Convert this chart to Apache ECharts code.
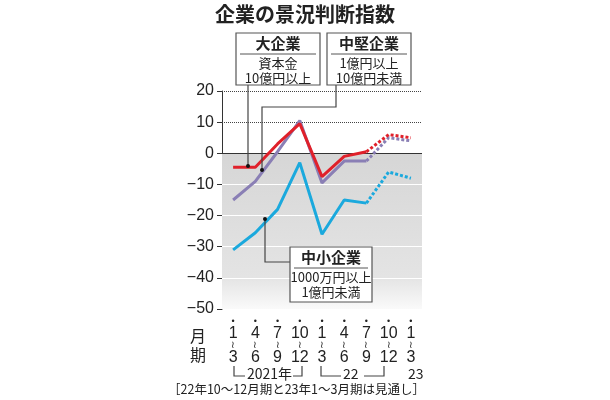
<!DOCTYPE html><html><head><meta charset="utf-8"><script src="https://cdn.jsdelivr.net/npm/echarts@6/dist/echarts.min.js"></script>
<style>body{margin:0;background:#fff}#c{width:610px;height:400px}</style></head><body><div id="c"></div><script>
const cats=['1~3','4~6','7~9','10~12','1~3','4~6','7~9','10~12','1~3'];
const large=[-4.5,-4.5,3,9.5,-7.5,-1,0.5,6,5];
const mid=[-15,-9,0.5,10.5,-9.5,-2.5,-2.5,5,4];
const small=[-31,-25.5,-18,-3,-26,-15,-16,-6,-8];
const yTicks=[20,10,0,-10,-20,-30,-40,-50];
const F='"Noto Sans CJK JP"';
function split(arr){const solid=arr.map((v,i)=>i<=6?v:null);const dash=arr.map((v,i)=>i>=6?v:null);return [solid,dash];}
function mk(name,arr,color){const [s,d]=split(arr);return [
{type:'line',data:s,symbol:'none',lineStyle:{color,width:3},z:5},
{type:'line',data:d,symbol:'none',lineStyle:{color,width:3,type:[3,2]},z:5}];}
const series=[...mk('small',small,'#1ba9dd'),...mk('mid',mid,'#8a7fb5'),...mk('large',large,'#e0202a')];
series.push({type:'line',data:[],markArea:{silent:true,itemStyle:{color:{type:'linear',x:0,y:0,x2:0,y2:1,colorStops:[{offset:0,color:'#d6d6d6'},{offset:0.8,color:'#e4e4e4'},{offset:1,color:'#fafafa'}]}},data:[[{yAxis:0,x:222},{yAxis:-50,x:422}]]},
markLine:{silent:true,symbol:'none',label:{show:false},data:[
{yAxis:20,lineStyle:{color:'#444',type:'dotted',width:1}},{yAxis:10,lineStyle:{color:'#444',type:'dotted',width:1}},
{yAxis:0,lineStyle:{color:'#333',type:'solid',width:1.2}},
{yAxis:-10,lineStyle:{color:'#fff',type:'solid',width:1}},{yAxis:-20,lineStyle:{color:'#fff',type:'solid',width:1}},
{yAxis:-30,lineStyle:{color:'#fff',type:'solid',width:1}},{yAxis:-40,lineStyle:{color:'#fff',type:'solid',width:1}}]}});
function box(x,y,w,h,t1,t2,t3){return {type:'group',children:[
{type:'rect',shape:{x,y,width:w,height:h},style:{fill:'#fff',stroke:'#555',lineWidth:1.2},z:20},
{type:'text',x:x+w/2,y:y+3,style:{text:t1,font:'bold 15px '+F,fill:'#222',align:'center'},z:21},
{type:'line',shape:{x1:x+4,y1:y+21,x2:x+w-4,y2:y+21},style:{stroke:'#555',lineWidth:1},z:21},
{type:'text',x:x+w/2,y:y+23,style:{text:t2+'\n'+t3,font:'13px '+F,lineHeight:15,fill:'#222',align:'center'},z:21}]};}
function pl(pts){return {type:'polyline',shape:{points:pts},style:{stroke:'#444',lineWidth:1.2,fill:null},z:19};}
function dot(x,y){return {type:'circle',shape:{cx:x,cy:y,r:2},style:{fill:'#111'},z:19};}
const graphic=[
{type:'text',left:'center',top:4,style:{text:'企業の景況判断指数',font:'bold 20px '+F,fill:'#222'}},
pl([[248,85],[248,166]]),dot(248,166),
pl([[336,85],[336,107],[262,107],[262,170]]),dot(262,170),
pl([[290,262],[265,262],[265,219]]),dot(265,219),
box(236,33,84,52,'大企業','資本金','10億円以上'),
box(327,33,84,52,'中堅企業','1億円以上','10億円未満'),
box(290,247,82,55,'中小企業','1000万円以上','1億円未満'),
{type:'text',x:190,y:326,style:{text:'月\n期',font:'16px '+F,lineHeight:19,fill:'#222'}},
pl([[234,366],[234,376],[245,376]]),{type:'text',x:247,y:367,style:{text:'2021年',font:'14px '+F,fill:'#222'}},
pl([[293,376],[302,376],[302,366]]),
pl([[321,366],[321,376],[341,376]]),{type:'text',x:343,y:367,style:{text:'22',font:'14px '+F,fill:'#222'}},
pl([[364,376],[384,376],[384,366]]),
{type:'text',x:408,y:367,style:{text:'23',font:'14px '+F,fill:'#222'}},
{type:'text',x:168,y:383,style:{text:'［22年10～12月期と23年1～3月期は見通し］',font:'12.5px '+F,fill:'#222'}}
];
const ch=echarts.init(document.getElementById('c'));
ch.setOption({animation:false,grid:{left:222,right:188,top:91,bottom:91},
xAxis:{type:'category',data:cats,boundaryGap:true,axisLine:{show:false},axisTick:{show:false},
axisLabel:{interval:0,margin:8,formatter:v=>{const [a,b]=v.split('~');return '{d|•}\n{n|'+a+'}\n{w|≀}\n{n|'+b+'}';},
rich:{d:{fontSize:9,lineHeight:9,color:'#222'},n:{fontSize:16,lineHeight:15,color:'#222',fontFamily:'Liberation Sans'},w:{fontSize:10,lineHeight:9,color:'#222'}}}},
yAxis:{type:'value',min:-50,max:20,interval:10,axisLine:{show:true,lineStyle:{color:'#333'}},axisTick:{show:true,inside:false,length:5},splitLine:{show:false},
axisLabel:{fontSize:16,color:'#222',fontFamily:'Liberation Sans',formatter:v=>v<0?'−'+(-v):v}},
series,graphic});
</script></body></html>
